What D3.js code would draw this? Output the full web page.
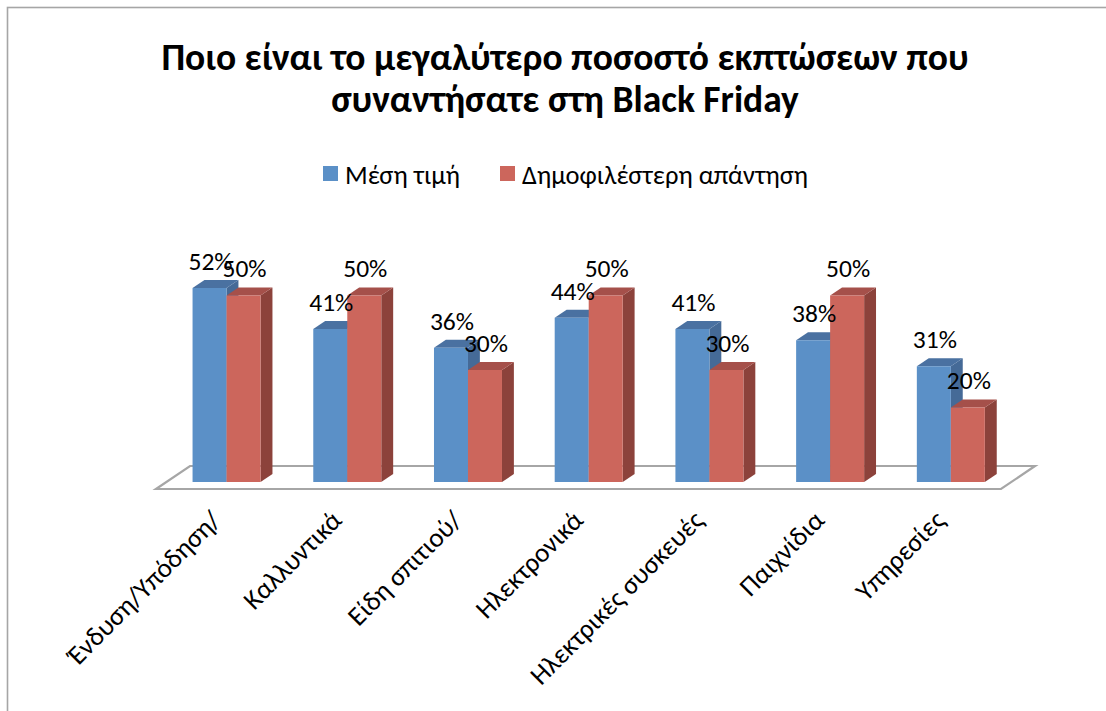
<!DOCTYPE html>
<html>
<head>
<meta charset="utf-8">
<script src="https://cdn.jsdelivr.net/npm/d3@7/dist/d3.min.js"></script>
<style>
  html, body { margin: 0; padding: 0; background: #fff; }
  svg { display: block; }
  text { font-family: Carlito, "Open Sans", "Noto Sans", sans-serif; fill: #000; }
</style>
</head>
<body>
<svg id="chart" width="1106" height="711"></svg>
<script>
const titleLines = ["Ποιο είναι το μεγαλύτερο ποσοστό εκπτώσεων που", "συναντήσατε στη Black Friday"];
const categories = ["Ένδυση/Υπόδηση/", "Καλλυντικά", "Είδη σπιτιού/", "Ηλεκτρονικά", "Ηλεκτρικές συσκευές", "Παιχνίδια", "Υπηρεσίες"];
const seriesNames = ["Μέση τιμή", "Δημοφιλέστερη απάντηση"];
const avgValues = [52, 41, 36, 44, 41, 38, 31];
const popularValues = [50, 50, 30, 50, 30, 50, 20];
const seriesColors = [
  { front: "#5b90c7", top: "#4a71a1", side: "#456a97" },
  { front: "#cc665c", top: "#a5504a", side: "#8c423b" }
];

const svg = d3.select("#chart");
const W = 1106, H = 711;

// outer border
svg.append("rect").attr("x", 7.5).attr("y", 7.5).attr("width", W + 20).attr("height", H + 20)
  .attr("fill", "none").attr("stroke", "#a6a6a6").attr("stroke-width", 1.6);

// title
svg.append("g").selectAll("text").data(titleLines).join("text")
  .attr("x", 565).attr("y", (d, i) => 70 + i * 42)
  .attr("text-anchor", "middle").attr("font-weight", "bold").attr("font-size", 37.5)
  .text(d => d);

// legend
const legendX = [323, 500];
const lg = svg.append("g").selectAll("g").data(seriesNames).join("g")
  .attr("transform", (d, i) => `translate(${legendX[i]},166)`);
lg.append("rect").attr("width", 15).attr("height", 15).attr("fill", (d, i) => seriesColors[i].front);
lg.append("text").attr("x", 22).attr("y", 18).attr("font-size", 26.5).text(d => d);

// 3D geometry
const floorFrontY = 489;
const depth = { dx: 34, dy: -23 };
const zFront = 0.3, zBack = 0.65;
const x = d3.scaleBand().domain(categories).range([156, 1001]).paddingInner(0).paddingOuter(0);
const xs = d3.scaleBand().domain([0, 1]).range([0, 68]);
const groupPad = (x.bandwidth() - 68) / 2;
const baseY = floorFrontY + depth.dy * zFront;
const y = d3.scaleLinear().domain([0, 60]).range([baseY, baseY - 224]);

const proj = (px, v, z) => [px + depth.dx * z, y(v) + (depth.dy * z - depth.dy * zFront)];

// floor
const f0 = x.range()[0], f1 = x.range()[1];
const floorPts = [[f0, floorFrontY], [f1, floorFrontY], [f1 + depth.dx, floorFrontY + depth.dy], [f0 + depth.dx, floorFrontY + depth.dy]];
svg.append("polygon").attr("points", floorPts.map(p => p.join(",")).join(" "))
  .attr("fill", "#fff").attr("stroke", "#a6a6a6").attr("stroke-width", 2.2);

// bars
const data = [];
categories.forEach((c, i) => {
  [avgValues[i], popularValues[i]].forEach((v, s) => data.push({ c, s, v }));
});

const bars = svg.append("g");
data.forEach(d => {
  const xl = x(d.c) + groupPad + xs(d.s);
  const xr = xl + xs.bandwidth();
  const col = seriesColors[d.s];
  const P = (px, v, z) => proj(px, v, z).join(",");
  const g = bars.append("g");
  g.append("polygon").attr("points", [P(xr, 0, zFront), P(xr, 0, zBack), P(xr, d.v, zBack), P(xr, d.v, zFront)].join(" "))
    .attr("fill", col.side);
  g.append("polygon").attr("points", [P(xl, d.v, zFront), P(xr, d.v, zFront), P(xr, d.v, zBack), P(xl, d.v, zBack)].join(" "))
    .attr("fill", col.top);
  g.append("polygon").attr("points", [P(xl, 0, zFront), P(xr, 0, zFront), P(xr, d.v, zFront), P(xl, d.v, zFront)].join(" "))
    .attr("fill", col.front);
});

// value labels
svg.append("g").selectAll("text").data(data).join("text")
  .attr("x", d => proj(x(d.c) + groupPad + xs(d.s) + xs.bandwidth() / 2, d.v, zFront)[0] + 1)
  .attr("y", d => y(d.v) - 18)
  .attr("text-anchor", "middle").attr("font-size", 25.5)
  .text(d => d.v + "%");

// category labels
svg.append("g").selectAll("text").data(categories).join("text")
  .attr("transform", d => `translate(${x(d) + x.bandwidth() / 2 + 6},${floorFrontY + 33}) rotate(-45)`)
  .attr("text-anchor", "end").attr("font-size", 27)
  .text(d => d);
</script>
</body>
</html>
